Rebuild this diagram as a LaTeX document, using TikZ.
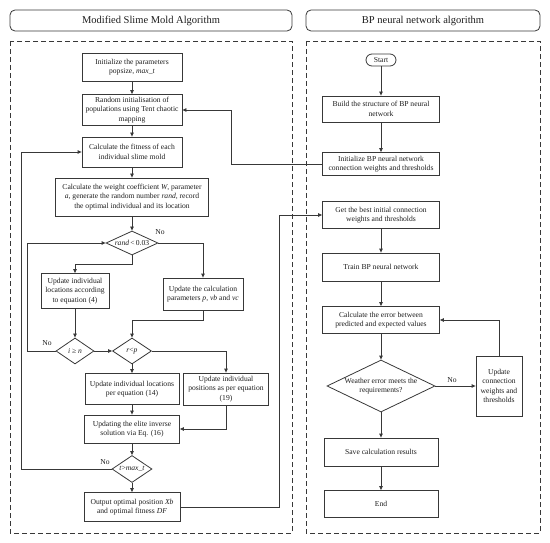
\documentclass[tikz,border=0pt]{standalone}
\usepackage{fontspec}
\setmainfont{Liberation Serif}
\usepackage{xcolor}
\definecolor{lineGray}{HTML}{383838}
\definecolor{darkText}{HTML}{1E1E1E}
\usetikzlibrary{
    shapes.geometric,
    arrows.meta,
    positioning
}
\tikzset{
    % Base style for all nodes
    flow base/.style={
        font=\fontsize{7.6}{9.3}\selectfont,
        align=center,
        text=darkText,
        draw=lineGray,
        line width=0.8pt,
        inner sep=1.5pt,
    },
    % Process boxes - plain rectangles
    process/.style={
        flow base,
        rectangle,
    },
    % Start node - small rounded box
    terminal/.style={
        flow base,
        rectangle,
        rounded corners=6pt,
        minimum width=30pt,
        minimum height=12pt,
        inner sep=1pt,
    },
    % Decision diamond
    decision/.style={
        flow base,
        diamond,
        inner sep=0pt,
    },
    % Panel titles - rounded boxes
    header/.style={
        draw=lineGray,
        line width=0.8pt,
        rounded corners=5pt,
        minimum height=21pt,
        text=darkText,
        font=\fontsize{10.5}{12}\selectfont,
    },
    % Dashed frame round each algorithm
    panel/.style={
        draw=lineGray,
        line width=0.8pt,
        dash pattern=on 5pt off 3pt,
    },
    % Arrow style
    arrow/.style={
        -{Triangle[length=4pt, width=3.5pt]},
        line width=0.8pt,
        draw=lineGray,
    },
    % Label style for No
    edge label/.style={
        font=\fontsize{7.6}{9}\selectfont,
        text=darkText,
        inner sep=1pt,
    },
}

\begin{document}
\begin{tikzpicture}[x=1pt, y=-1pt]
    \useasboundingbox (0,0) rectangle (550,543);

    % frames and titles
    \draw [panel] (10,41) rectangle (292,533);
    \draw [panel] (306,41) rectangle (540,533);
    \node (leftHead) [header, minimum width=282pt] at (151,20.5) {Modified Slime Mold Algorithm};
    \node (rightHead) [header, minimum width=234pt] at (423,20.5) {BP neural network algorithm};

    % Modified Slime Mold Algorithm
    \node (initpar) [process, minimum width=100pt, minimum height=28pt] at (132,67) {Initialize the parameters\\popsize, \textit{max\_t}};
    \node (randinit) [process, minimum width=100pt, minimum height=31pt] at (132,110) {Random initialisation of\\populations using Tent chaotic\\mapping};
    \node (fitness) [process, minimum width=100pt, minimum height=30pt] at (132,152) {Calculate the fitness of each\\individual slime mold};
    \node (weight) [process, minimum width=153pt, minimum height=38pt] at (132,197) {Calculate the weight coefficient \textit{W}, parameter\\\textit{a}, generate the random number \textit{rand}, record\\the optimal individual and its location};
    \node (randdec) [decision, aspect=2.17, minimum width=52pt, minimum height=24pt] at (132,243) {\textit{rand}\,<\,0.03};
    \node (updloc4) [process, minimum width=68pt, minimum height=35pt] at (75,291) {Update individual\\locations according\\to equation (4)};
    \node (updpar) [process, minimum width=80pt, minimum height=32pt] at (203,294) {Update the calculation\\parameters \textit{p}, \textit{vb} and \textit{vc}};
    \node (idec) [decision, aspect=1.46, minimum width=38pt, minimum height=26pt] at (75,351) {\textit{i} ≥ \textit{n}};
    \node (rdec) [decision, aspect=1.5, minimum width=39pt, minimum height=26pt] at (132,351) {\textit{r}<\textit{p}};
    \node (upd14) [process, minimum width=94pt, minimum height=31pt] at (132,389) {Update individual locations\\per equation (14)};
    \node (upd19) [process, minimum width=85pt, minimum height=32pt] at (226,389) {Update individual\\positions as per equation\\(19)};
    \node (elite) [process, minimum width=95pt, minimum height=28pt] at (132,429) {Updating the elite inverse\\solution via Eq. (16)};
    \node (tdec) [decision, aspect=1.48, minimum width=40pt, minimum height=27pt] at (132,469) {\textit{t}>\textit{max\_t}};
    \node (output) [process, minimum width=96pt, minimum height=29pt] at (132,507) {Output optimal position \textit{Xb}\\and optimal fitness \textit{DF}};

    \node (noRand) [edge label] at (160,232) {No};
    \node (noI) [edge label] at (47,343) {No};
    \node (noT) [edge label] at (105,462) {No};

    \draw [arrow] (initpar) -- (randinit);
    \draw [arrow] (randinit) -- (fitness);
    \draw [arrow] (fitness) -- (weight);
    \draw [arrow] (weight) -- (randdec);
    \draw [arrow] (randdec.south) -- ++(0,9) -| (updloc4.north);
    \draw [arrow] (randdec.east) -| (updpar.north);
    \draw [arrow] (updloc4) -- (idec);
    \draw [arrow] (updpar.south) -- ++(0,10) -| (rdec.north);
    \draw [arrow] (idec) -- (rdec);
    \draw [arrow] (idec.west) -- ++(-28,0) |- (randdec.west);
    \draw [arrow] (rdec) -- (upd14);
    \draw [arrow] (rdec.east) -| (upd19.north);
    \draw [arrow] (upd14) -- (elite);
    \draw [arrow] (upd19.south) |- (elite.east);
    \draw [arrow] (elite) -- (tdec);
    \draw [arrow] (tdec.west) -- ++(-90,0) |- (fitness.west);
    \draw [arrow] (tdec) -- (output);

    % BP neural network algorithm
    \node (start) [terminal] at (381,60) {Start};
    \node (build) [process, minimum width=117pt, minimum height=26pt] at (381,109) {Build the structure of BP neural\\network};
    \node (initbp) [process, minimum width=117pt, minimum height=23pt] at (381,164) {Initialize BP neural network\\connection weights and thresholds};
    \node (getbest) [process, minimum width=117pt, minimum height=27pt] at (381,215) {Get the best initial connection\\weights and thresholds};
    \node (train) [process, minimum width=117pt, minimum height=28pt] at (381,267) {Train BP neural network};
    \node (calcerr) [process, minimum width=117pt, minimum height=27pt] at (381,320) {Calculate the error between\\predicted and expected values};
    \node (weather) [decision, aspect=2.08, minimum width=108pt, minimum height=52pt] at (381,386) {Weather error meets the\\requirements?};
    \node (updconn) [process, minimum width=46pt, minimum height=60pt] at (499,386) {Update\\connection\\weights and\\thresholds};
    \node (save) [process, minimum width=114pt, minimum height=28pt] at (381,452) {Save calculation results};
    \node (end) [process, minimum width=114pt, minimum height=27pt] at (381,504) {End};

    \node (noErr) [edge label] at (452,380) {No};

    \draw [arrow] (start) -- (build);
    \draw [arrow] (build) -- (initbp);
    \draw [arrow] (getbest) -- (train);
    \draw [arrow] (train) -- (calcerr);
    \draw [arrow] (calcerr) -- (weather);
    \draw [arrow] (weather) -- (updconn);
    \draw [arrow] (updconn.north) |- (calcerr.east);
    \draw [arrow] (weather) -- (save);
    \draw [arrow] (save) -- (end);

    % links between the two panels
    \draw [arrow] (initbp.west) -- ++(-91,0) |- (randinit.east);
    \draw [arrow] (output.east) -- ++(99,0) |- (getbest.west);
\end{tikzpicture}
\end{document}
